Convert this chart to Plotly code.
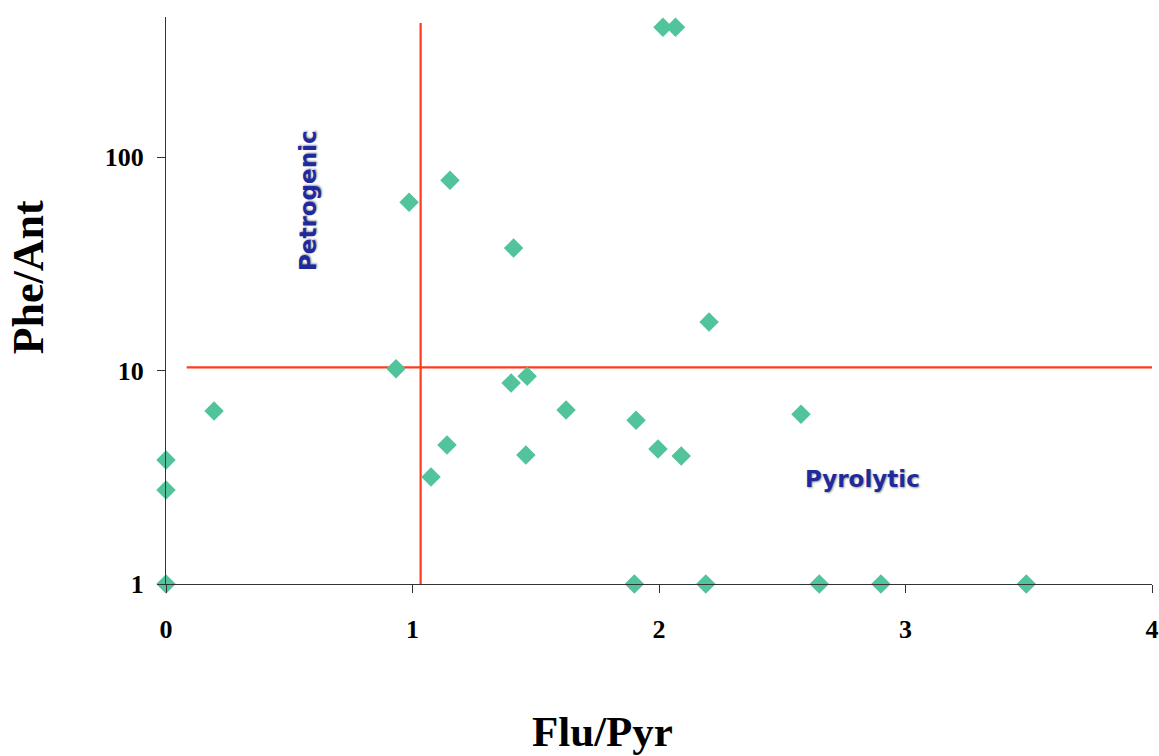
import plotly.graph_objects as go
import numpy as np

# Data: Flu/Pyr (x) vs Phe/Ant (y)
flu_pyr = [0.0, 0.0, 0.0, 0.195, 0.933, 0.986, 1.152, 1.075, 1.14, 1.40, 1.465,
           1.41, 1.46, 1.623, 1.907, 1.996, 2.09, 2.203, 2.576, 2.016, 2.067,
           1.90, 2.19, 2.65, 2.90, 3.49]
phe_ant = [1.0, 3.81, 2.76, 6.46, 10.2, 61.5, 78.0, 3.17, 4.48, 8.74, 9.42,
           37.5, 4.02, 6.53, 5.86, 4.29, 3.98, 16.9, 6.25, 406, 406,
           1.0, 1.0, 1.0, 1.0, 1.0]

# Threshold lines
vline_x = [1.033, 1.033]
vline_y = [1.0, 426]
hline_x = [0.084, 4.03]
hline_y = [10.35, 10.35]

# Region labels
region_text = ["Petrogenic", "Pyrolytic"]
region_x = [0.576, 2.826]
region_y = [63, 3.1]
region_angle = [-90, 0]

x_ticks = [0, 1, 2, 3, 4]
y_ticks = [1, 10, 100]

fig = go.Figure()
fig.add_trace(go.Scatter(x=vline_x, y=vline_y, mode="lines", cliponaxis=False,
                         line=dict(color="#FF3B1F", width=2.2), hoverinfo="skip"))
fig.add_trace(go.Scatter(x=hline_x, y=hline_y, mode="lines", cliponaxis=False,
                         line=dict(color="#FF3B1F", width=2.2), hoverinfo="skip"))
fig.add_trace(go.Scatter(x=flu_pyr, y=phe_ant, mode="markers",
                         marker=dict(symbol="diamond", size=15, color="#52C49C",
                                     line=dict(width=0)),
                         cliponaxis=False))

for t, xx, yy, ang in zip(region_text, region_x, region_y, region_angle):
    fig.add_annotation(x=xx, y=np.log10(yy), text=f"<b>{t}</b>", showarrow=False,
                       textangle=ang, xref="x", yref="y",
                       font=dict(family="DejaVu Sans", size=23, color="#1F2A9E",
                                 shadow="1px 1px 2px #9a9a9a"))

tick_font = dict(family="Liberation Serif", size=26, color="#000000", weight="bold")
fig.update_xaxes(range=[0, 4], tickvals=x_ticks, ticktext=[str(v) for v in x_ticks],
                 showline=True, linecolor="#333333", linewidth=1.2,
                 ticks="outside", ticklen=8, tickcolor="#333333", tickwidth=1.2,
                 showgrid=False, zeroline=False, tickfont=tick_font,
                 ticklabelstandoff=14, ticklabeloverflow="allow", automargin=False)
fig.update_yaxes(type="log", range=[0, 2.657], tickvals=y_ticks,
                 ticktext=[str(v) for v in y_ticks],
                 showline=True, linecolor="#333333", linewidth=1.2,
                 ticks="outside", ticklen=8, tickcolor="#333333", tickwidth=1.2,
                 showgrid=False, zeroline=False, tickfont=tick_font,
                 ticklabelstandoff=8, ticklabeloverflow="allow", automargin=False)

fig.add_annotation(x=0.443, y=0, xref="paper", yref="paper", yshift=-147,
                   text="<b>Flu/Pyr</b>", showarrow=False, yanchor="middle",
                   xanchor="center",
                   font=dict(family="Liberation Serif", size=43, color="#000000"))
fig.add_annotation(x=0, y=0.541, xref="paper", yref="paper", xshift=-138,
                   text="<b>Phe/Ant</b>", showarrow=False, textangle=-90,
                   xanchor="center", yanchor="middle",
                   font=dict(family="Liberation Serif", size=44, color="#000000"))

fig.update_layout(width=1159, height=756, showlegend=False,
                  plot_bgcolor="white", paper_bgcolor="white",
                  margin=dict(l=166, r=7, t=17, b=172))
fig.write_html("out.html")
